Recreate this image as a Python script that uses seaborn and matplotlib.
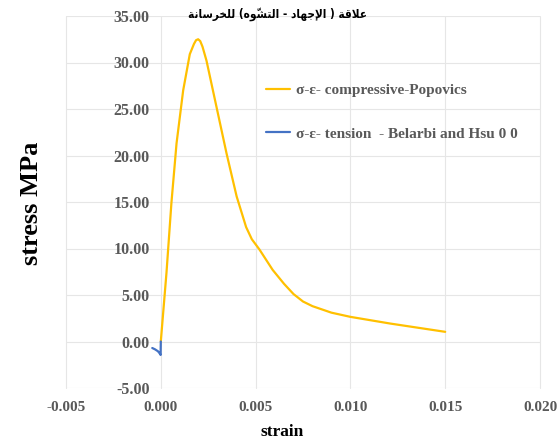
import matplotlib
matplotlib.use("Agg")
import matplotlib.pyplot as plt
import numpy as np
import pandas as pd
import seaborn as sns

# ---- data -------------------------------------------------------------
comp_strain = [0.0, 0.0003, 0.00056, 0.00083, 0.00118, 0.00153, 0.00175,
               0.00186, 0.00197, 0.00208, 0.0022, 0.00241, 0.00294,
               0.00347, 0.0040, 0.0045, 0.0048, 0.0052, 0.0059, 0.0065,
               0.0070, 0.0075, 0.0080, 0.0090, 0.0100, 0.0121, 0.0150]
comp_stress = [0.0, 7.4, 14.9, 21.3, 27.0, 30.9, 32.0,
               32.4, 32.5, 32.3, 31.7, 30.2, 25.2,
               20.2, 15.6, 12.3, 11.0, 9.9, 7.7, 6.2,
               5.1, 4.3, 3.8, 3.1, 2.65, 1.93, 1.04]

tens_strain = [0.0, -0.00001, -0.00005, -0.00015, -0.0003, -0.00045]
tens_stress = [0.0, -1.45, -1.3, -1.05, -0.85, -0.7]

series_names = ["σ-ε- compressive-Popovics",
                "σ-ε- tension  - Belarbi and Hsu 0 0"]
series_colors = ["#FFC000", "#4472C4"]

x_ticks = [-0.005, 0.000, 0.005, 0.010, 0.015, 0.020]
y_ticks = [-5, 0, 5, 10, 15, 20, 25, 30, 35]

title_text = "علاقة ( الإجهاد - التشوّه) للخرسانة"
x_title = "strain"
y_title = "stress MPa"

# ---- minimal Arabic shaping (matplotlib has no complex text layout) ---
FORMS = {  # isolated, final, initial, medial
    "ا": ("\uFE8D", "\uFE8E", None, None),
    "إ": ("\uFE87", "\uFE88", None, None),
    "ة": ("\uFE93", "\uFE94", None, None),
    "ت": ("\uFE95", "\uFE96", "\uFE97", "\uFE98"),
    "ج": ("\uFE9D", "\uFE9E", "\uFE9F", "\uFEA0"),
    "خ": ("\uFEA5", "\uFEA6", "\uFEA7", "\uFEA8"),
    "د": ("\uFEA9", "\uFEAA", None, None),
    "ر": ("\uFEAD", "\uFEAE", None, None),
    "س": ("\uFEB1", "\uFEB2", "\uFEB3", "\uFEB4"),
    "ش": ("\uFEB5", "\uFEB6", "\uFEB7", "\uFEB8"),
    "ع": ("\uFEC9", "\uFECA", "\uFECB", "\uFECC"),
    "ق": ("\uFED5", "\uFED6", "\uFED7", "\uFED8"),
    "ل": ("\uFEDD", "\uFEDE", "\uFEDF", "\uFEE0"),
    "ن": ("\uFEE5", "\uFEE6", "\uFEE7", "\uFEE8"),
    "ه": ("\uFEE9", "\uFEEA", "\uFEEB", "\uFEEC"),
    "و": ("\uFEED", "\uFEEE", None, None),
}
LAM_ALEF = {"ا": ("\uFEFB", "\uFEFC"), "إ": ("\uFEF9", "\uFEFA")}
MARKS = set(chr(c) for c in range(0x064B, 0x0653))
MIRROR = {"(": ")", ")": "("}


def shape_rtl(text):
    tokens = []
    i = 0
    while i < len(text):
        c = text[i]
        if c in MARKS and tokens:
            tokens[-1][1] += c
        elif c == "ل" and i + 1 < len(text) and text[i + 1] in LAM_ALEF:
            tokens.append(["ل" + text[i + 1], ""])
            i += 1
        else:
            tokens.append([c, ""])
        i += 1

    def is_arabic(tok):
        return tok is not None and (tok[0] in FORMS or len(tok[0]) == 2)

    def joins_left(tok):
        return tok is not None and tok[0] in FORMS and FORMS[tok[0]][2] is not None

    glyphs = []
    for k, tok in enumerate(tokens):
        prev = tokens[k - 1] if k > 0 else None
        nxt = tokens[k + 1] if k + 1 < len(tokens) else None
        link_prev = joins_left(prev)
        if len(tok[0]) == 2:
            iso, fin = LAM_ALEF[tok[0][1]]
            g = fin if link_prev else iso
        elif tok[0] in FORMS:
            iso, fin, ini, med = FORMS[tok[0]]
            link_next = ini is not None and is_arabic(nxt)
            if link_prev and link_next:
                g = med
            elif link_prev:
                g = fin
            elif link_next:
                g = ini
            else:
                g = iso
        else:
            g = MIRROR.get(tok[0], tok[0])
        glyphs.append(g + tok[1])
    return "".join(reversed(glyphs))


# ---- table for seaborn -------------------------------------------------
df = pd.concat([
    pd.DataFrame({"strain": comp_strain, "stress": comp_stress,
                  "curve": series_names[0]}),
    pd.DataFrame({"strain": tens_strain, "stress": tens_stress,
                  "curve": series_names[1]}),
], ignore_index=True)

# ---- style -------------------------------------------------------------
sns.set_theme(style="white")
plt.rcParams["font.family"] = ["Liberation Serif", "DejaVu Serif"]
plt.rcParams["axes.unicode_minus"] = False

W, H = 558, 442
fig = plt.figure(figsize=(W / 100, H / 100), dpi=100)
L, R, T, B = 66, 540, 16, 388
ax = fig.add_axes([L / W, (H - B) / H, (R - L) / W, (B - T) / H])

sns.lineplot(data=df, x="strain", y="stress", hue="curve",
             hue_order=series_names, palette=series_colors,
             sort=False, estimator=None, linewidth=1.6, ax=ax)
for ln in ax.get_lines():
    ln.set_solid_joinstyle("round")

ax.set_xlim(x_ticks[0], x_ticks[-1])
ax.set_ylim(y_ticks[0], y_ticks[-1])
ax.set_xticks(x_ticks)
ax.set_yticks(y_ticks)
ax.set_xticklabels([f"{v:.3f}" for v in x_ticks])
ax.set_yticklabels([f"{v:.2f}" for v in y_ticks])

ax.grid(True, color="#E6E6E6", linewidth=0.8)
ax.set_axisbelow(True)
for gl in ax.get_xgridlines() + ax.get_ygridlines():
    gl.set_clip_on(False)
for s in ax.spines.values():
    s.set_visible(False)
# value labels sit beside the zero strain line
ax.spines["left"].set_position(("data", 0))

ax.tick_params(axis="y", length=0, pad=8, labelsize=11.5,
               labelcolor="#595959")
ax.tick_params(axis="x", length=0, pad=9.5, labelsize=11,
               labelcolor="#595959")
for lab in ax.get_xticklabels() + ax.get_yticklabels():
    lab.set_fontweight("bold")

ax.set_xlabel(x_title, fontsize=12.5, fontweight="bold", color="black")
ax.xaxis.label.set_va("center")
ax.xaxis.set_label_coords((282 - L) / (R - L), -(432 - B) / (B - T))
ax.set_ylabel(y_title, fontsize=19, fontweight="bold", color="black")
ax.yaxis.label.set_va("center")
ax.yaxis.set_label_coords((31 - L) / (R - L), (B - 203) / (B - T))

sns.move_legend(ax, "upper left", bbox_to_anchor=(258 / W, 1 - 76 / H),
                bbox_transform=fig.transFigure, frameon=False, title=None,
                borderpad=0, handlelength=1.6, handletextpad=0.4,
                labelspacing=1.95, prop={"weight": "bold", "size": 11})
for txt in ax.get_legend().get_texts():
    txt.set_color("#595959")

fig.text(277 / W, 1 - 14 / H, shape_rtl(title_text), ha="center",
         va="center", fontsize=8.5, fontweight="bold", color="black",
         fontstretch="condensed", family=["DejaVu Sans"])

fig.savefig("out.png", dpi=100, facecolor="white")
